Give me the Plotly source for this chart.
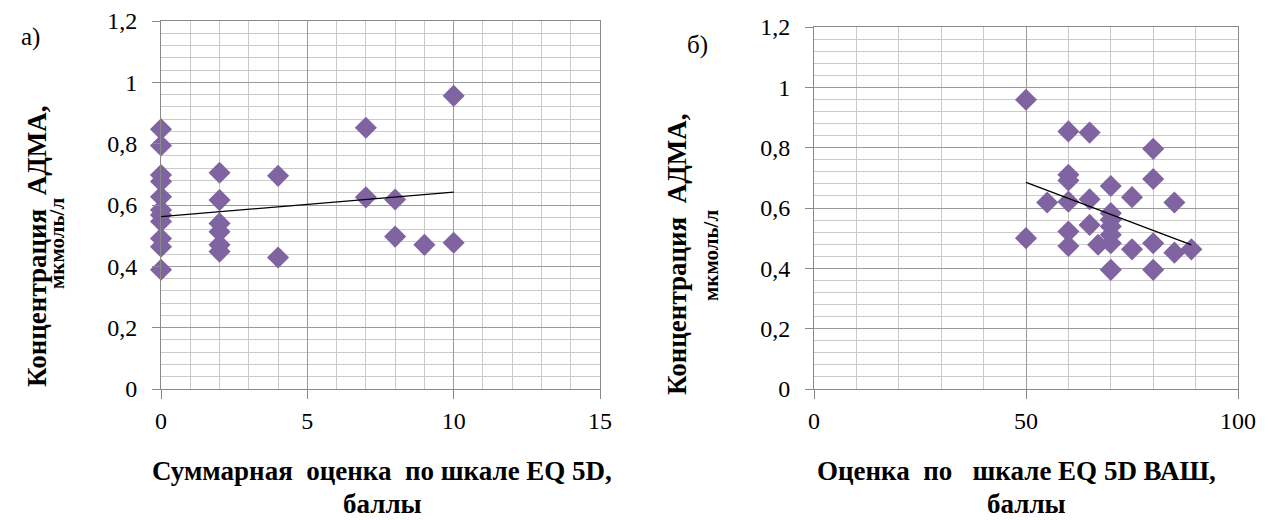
import plotly.graph_objects as go

# ---------------- data ----------------
# Panel a): summary EQ-5D score vs ADMA
a_x = [0, 0, 0, 0, 0, 0, 0, 0, 0, 0, 0,
       2, 2, 2, 2, 2, 2,
       4, 4,
       7, 7,
       8, 8,
       9,
       10, 10]
a_y = [0.847, 0.794, 0.698, 0.677, 0.627, 0.584, 0.567, 0.546, 0.491, 0.464, 0.389,
       0.705, 0.616, 0.540, 0.513, 0.470, 0.448,
       0.695, 0.429,
       0.852, 0.625,
       0.618, 0.497,
       0.470,
       0.956, 0.477]
a_trend_x = [0, 10]
a_trend_y = [0.562, 0.642]

# Panel б): EQ-5D VAS vs ADMA
b_x = [50, 60, 65, 80, 60, 60, 80, 70, 75, 65, 55, 60, 85, 70, 70,
       65, 70, 60, 70, 50, 60, 67, 70, 75, 80, 85, 89, 70, 80]
b_y = [0.959, 0.854, 0.850, 0.796, 0.710, 0.691, 0.696, 0.673, 0.636, 0.629,
       0.618, 0.621, 0.618, 0.583, 0.561, 0.544, 0.539, 0.522, 0.511, 0.500,
       0.474, 0.478, 0.483, 0.463, 0.483, 0.452, 0.463, 0.395, 0.395]
b_trend_x = [50, 89]
b_trend_y = [0.685, 0.478]

a_xticks = [0, 5, 10, 15]
a_xticktext = ["0", "5", "10", "15"]
b_xticks = [0, 50, 100]
b_xticktext = ["0", "50", "100"]
y_ticks = [0, 0.2, 0.4, 0.6, 0.8, 1.0, 1.2]
y_ticktext = ["0", "0,2", "0,4", "0,6", "0,8", "1", "1,2"]

# ---------------- style ----------------
W, H = 1273, 520
PURPLE = "#8064A2"
MAJ = "#9a9a9a"
MIN = "#cbcbcb"
AX = "#8a8a8a"
FONT = "Liberation Serif"
TICKFONT = dict(family=FONT, size=24, color="black")

fig = go.Figure()
fig.add_trace(go.Scatter(x=a_x, y=a_y, mode="markers", xaxis="x", yaxis="y",
                         cliponaxis=False,
                         marker=dict(symbol="diamond", size=17, color=PURPLE,
                                     line=dict(width=0))))
fig.add_trace(go.Scatter(x=a_trend_x, y=a_trend_y, mode="lines", xaxis="x", yaxis="y",
                         line=dict(color="black", width=1.3)))
fig.add_trace(go.Scatter(x=b_x, y=b_y, mode="markers", xaxis="x2", yaxis="y2",
                         cliponaxis=False,
                         marker=dict(symbol="diamond", size=17, color=PURPLE,
                                     line=dict(width=0))))
fig.add_trace(go.Scatter(x=b_trend_x, y=b_trend_y, mode="lines", xaxis="x2", yaxis="y2",
                         line=dict(color="black", width=1.3)))


def xax(domain, rng, tv, tt, minor_dtick):
    return dict(domain=domain, range=rng, tickmode="array", tickvals=tv, ticktext=tt,
                showgrid=True, gridcolor=MAJ, gridwidth=1,
                minor=dict(dtick=minor_dtick, tick0=0, showgrid=True, gridcolor=MIN,
                           gridwidth=1, ticks=""),
                showline=True, linecolor=AX, linewidth=1, mirror=True,
                ticks="outside", ticklen=9, tickcolor=AX, zeroline=False,
                tickfont=TICKFONT, ticklabelstandoff=1, automargin=False,
                fixedrange=True)


def yax(domain, anchor):
    return dict(domain=domain, range=[0, 1.2], anchor=anchor, tickmode="array",
                tickvals=y_ticks, ticktext=y_ticktext,
                showgrid=True, gridcolor=MAJ, gridwidth=1,
                minor=dict(dtick=0.04, tick0=0, showgrid=True, gridcolor=MIN,
                           gridwidth=1, ticks=""),
                showline=True, linecolor=AX, linewidth=1, mirror=True,
                ticks="outside", ticklen=8, tickcolor=AX, zeroline=False,
                tickfont=TICKFONT, ticklabelstandoff=10, automargin=False,
                fixedrange=True)


fig.update_layout(
    width=W, height=H,
    margin=dict(l=0, r=0, t=0, b=0, pad=0, autoexpand=False),
    paper_bgcolor="white", plot_bgcolor="white",
    showlegend=False,
    xaxis=dict(**xax([161 / W, 600 / W], [0, 15], a_xticks, a_xticktext, 1), anchor="y"),
    yaxis=yax([1 - 389 / H, 1 - 21 / H], "x"),
    xaxis2=dict(**xax([814 / W, 1238 / W], [0, 100], b_xticks, b_xticktext, 10), anchor="y2"),
    yaxis2=yax([1 - 389 / H, 1 - 27 / H], "x2"),
)


def ann(text, px, py, size, bold=False, angle=0):
    t = f"<b>{text}</b>" if bold else text
    return dict(text=t, x=px / W, y=1 - py / H, xref="paper", yref="paper",
                xanchor="center", yanchor="middle", showarrow=False, textangle=angle,
                font=dict(family=FONT, size=size, color="black"))


fig.update_layout(annotations=[
    ann("а)", 30, 37, 25),
    ann("б)", 697, 45, 25),
    ann("Суммарная  оценка  по шкале EQ 5D,", 382, 471, 27, bold=True),
    ann("баллы", 382, 504, 27, bold=True),
    ann("Оценка  по   шкале EQ 5D ВАШ,", 1016, 471, 27, bold=True),
    ann("баллы", 1026, 504, 27, bold=True),
    ann("Концентрация  АДМА,", 37, 246, 27, bold=True, angle=-90),
    ann("мкмоль/л", 57, 244, 21, bold=True, angle=-90),
    ann("Концентрация  АДМА,", 677, 254, 27, bold=True, angle=-90),
    ann("мкмоль/л", 711, 256, 21, bold=True, angle=-90),
])

fig.write_html("out.html")
